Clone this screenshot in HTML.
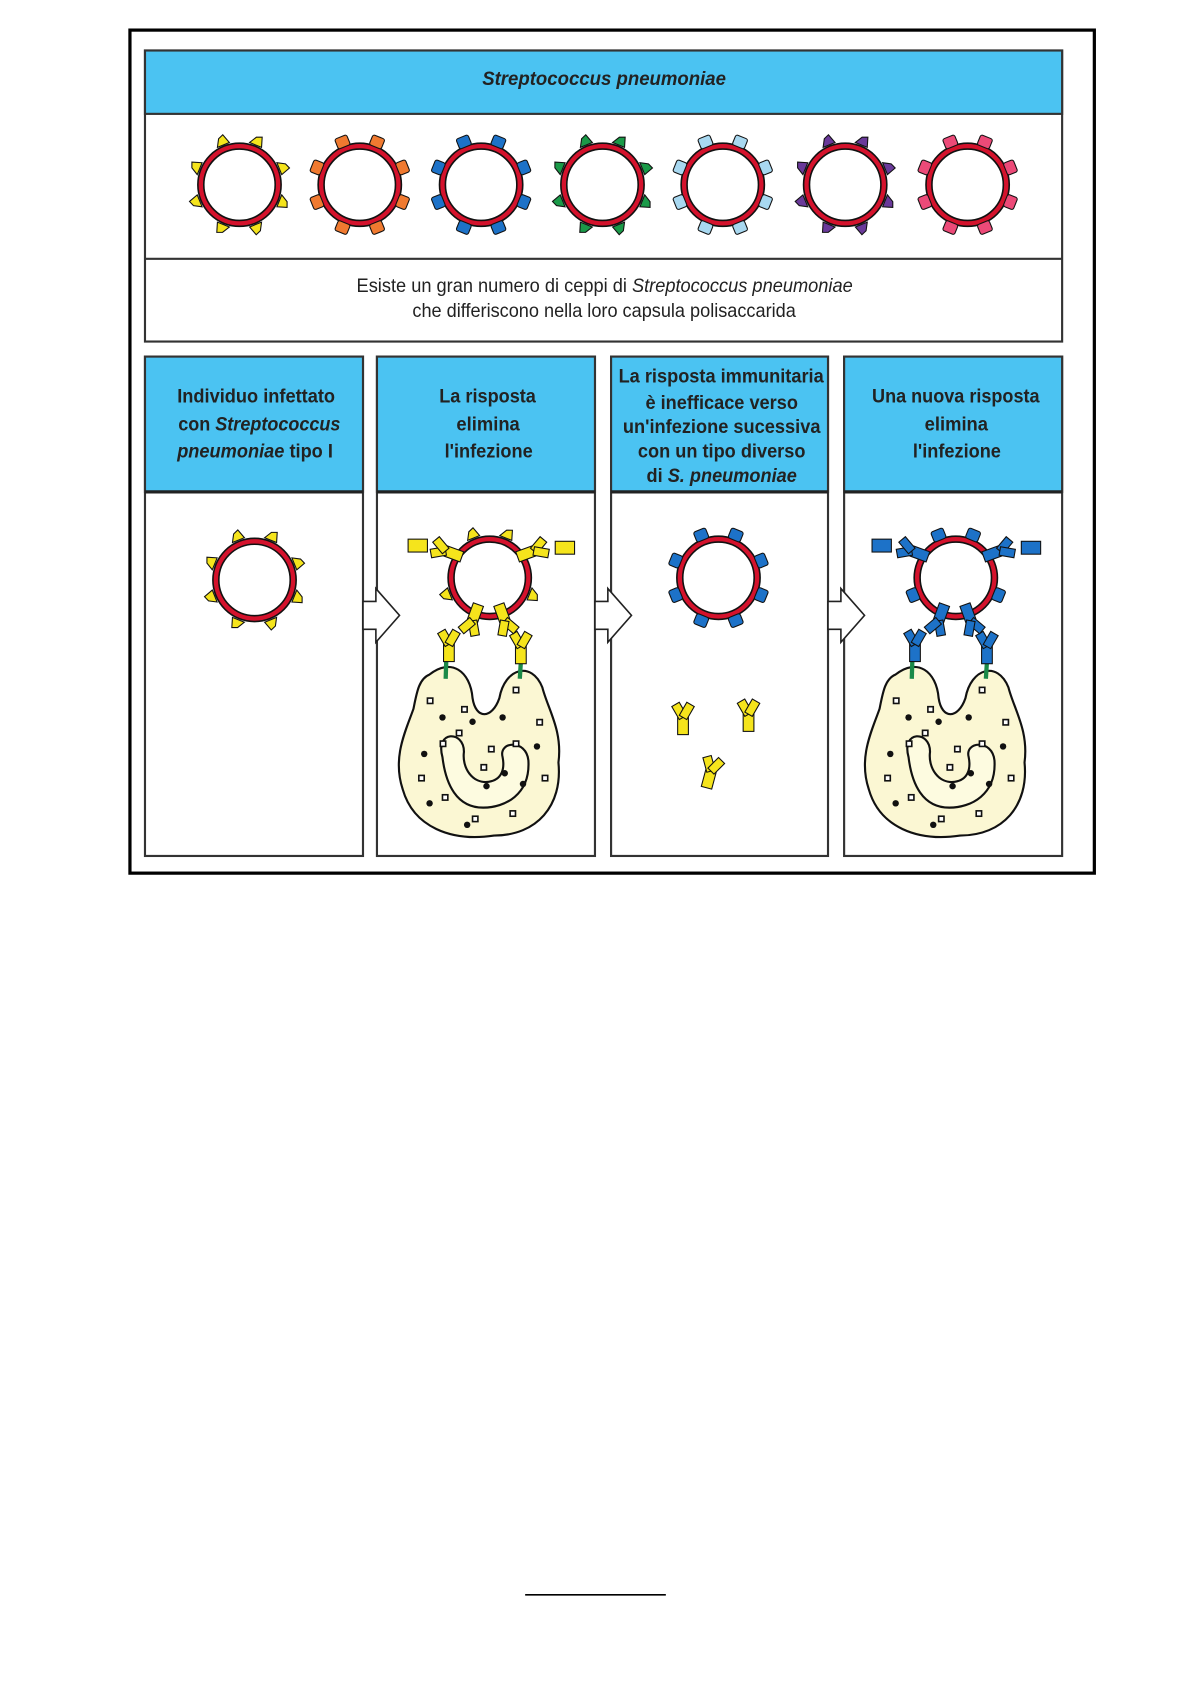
<!DOCTYPE html>
<html><head><meta charset="utf-8"><style>
html,body{margin:0;padding:0;background:#fff}
svg{display:block}
text{font-family:"Liberation Sans",sans-serif;font-weight:bold;fill:#222}
</style></head><body>
<svg width="1191" height="1684" viewBox="0 0 1109 1568" xmlns="http://www.w3.org/2000/svg">
<defs>
<g id="ring"><circle r="36" fill="#fff" stroke="#111" stroke-width="7"/><circle r="36" fill="none" stroke="#d4122c" stroke-width="4"/></g>
<polygon id="tri" points="-6,0 6,0 3,-9 -2,-7" stroke="#111" stroke-width="1"/>
<rect id="sq" x="-6" y="-8" width="12" height="10" rx="2" stroke="#111" stroke-width="1"/>
<g id="abody" stroke="#111" stroke-width="1">
<rect x="-5" y="0" width="10" height="16"/>
<rect x="-4" y="-14" width="8" height="14" transform="rotate(-30)"/>
<rect x="-4" y="-14" width="8" height="14" transform="rotate(30)"/>
</g>
</defs>

<rect x="121" y="28" width="898" height="785" fill="#fff" stroke="#000" stroke-width="3"/>
<rect x="135" y="47" width="854" height="271" fill="#fff" stroke="#333" stroke-width="2"/>
<rect x="135" y="47" width="854" height="59" fill="#4bc3f2" stroke="#333" stroke-width="2"/>
<line x1="135" y1="241" x2="989" y2="241" stroke="#333" stroke-width="2"/>
<text x="449" y="79" font-size="18" font-style="italic" textLength="227" lengthAdjust="spacingAndGlyphs">Streptococcus  pneumoniae</text>
<text x="332" y="272" font-size="18" style="font-weight:normal" textLength="462" lengthAdjust="spacingAndGlyphs">Esiste un gran numero di ceppi di <tspan font-style="italic">Streptococcus pneumoniae</tspan></text>
<text x="384" y="295" font-size="18" style="font-weight:normal" textLength="357" lengthAdjust="spacingAndGlyphs">che differiscono nella loro capsula polisaccarida</text>

<g transform="translate(223,172)"><use href="#ring"/><g fill="#f5e41c"><use href="#tri" transform="rotate(-22) translate(0,-40)"/><use href="#tri" transform="rotate(22) translate(0,-40)"/><use href="#tri" transform="rotate(68) translate(0,-40)"/><use href="#tri" transform="rotate(112) translate(0,-40)"/><use href="#tri" transform="rotate(158) translate(0,-40)"/><use href="#tri" transform="rotate(202) translate(0,-40)"/><use href="#tri" transform="rotate(248) translate(0,-40)"/><use href="#tri" transform="rotate(292) translate(0,-40)"/></g></g>
<g transform="translate(335,172)"><use href="#ring"/><g fill="#f07a30"><use href="#sq" transform="rotate(-22) translate(0,-40)"/><use href="#sq" transform="rotate(22) translate(0,-40)"/><use href="#sq" transform="rotate(68) translate(0,-40)"/><use href="#sq" transform="rotate(112) translate(0,-40)"/><use href="#sq" transform="rotate(158) translate(0,-40)"/><use href="#sq" transform="rotate(202) translate(0,-40)"/><use href="#sq" transform="rotate(248) translate(0,-40)"/><use href="#sq" transform="rotate(292) translate(0,-40)"/></g></g>
<g transform="translate(448,172)"><use href="#ring"/><g fill="#1d72c8"><use href="#sq" transform="rotate(-22) translate(0,-40)"/><use href="#sq" transform="rotate(22) translate(0,-40)"/><use href="#sq" transform="rotate(68) translate(0,-40)"/><use href="#sq" transform="rotate(112) translate(0,-40)"/><use href="#sq" transform="rotate(158) translate(0,-40)"/><use href="#sq" transform="rotate(202) translate(0,-40)"/><use href="#sq" transform="rotate(248) translate(0,-40)"/><use href="#sq" transform="rotate(292) translate(0,-40)"/></g></g>
<g transform="translate(561,172)"><use href="#ring"/><g fill="#1a9a48"><use href="#tri" transform="rotate(-22) translate(0,-40)"/><use href="#tri" transform="rotate(22) translate(0,-40)"/><use href="#tri" transform="rotate(68) translate(0,-40)"/><use href="#tri" transform="rotate(112) translate(0,-40)"/><use href="#tri" transform="rotate(158) translate(0,-40)"/><use href="#tri" transform="rotate(202) translate(0,-40)"/><use href="#tri" transform="rotate(248) translate(0,-40)"/><use href="#tri" transform="rotate(292) translate(0,-40)"/></g></g>
<g transform="translate(673,172)"><use href="#ring"/><g fill="#a8d8f0"><use href="#sq" transform="rotate(-22) translate(0,-40)"/><use href="#sq" transform="rotate(22) translate(0,-40)"/><use href="#sq" transform="rotate(68) translate(0,-40)"/><use href="#sq" transform="rotate(112) translate(0,-40)"/><use href="#sq" transform="rotate(158) translate(0,-40)"/><use href="#sq" transform="rotate(202) translate(0,-40)"/><use href="#sq" transform="rotate(248) translate(0,-40)"/><use href="#sq" transform="rotate(292) translate(0,-40)"/></g></g>
<g transform="translate(787,172)"><use href="#ring"/><g fill="#6a3a9a"><use href="#tri" transform="rotate(-22) translate(0,-40)"/><use href="#tri" transform="rotate(22) translate(0,-40)"/><use href="#tri" transform="rotate(68) translate(0,-40)"/><use href="#tri" transform="rotate(112) translate(0,-40)"/><use href="#tri" transform="rotate(158) translate(0,-40)"/><use href="#tri" transform="rotate(202) translate(0,-40)"/><use href="#tri" transform="rotate(248) translate(0,-40)"/><use href="#tri" transform="rotate(292) translate(0,-40)"/></g></g>
<g transform="translate(901,172)"><use href="#ring"/><g fill="#ec4a78"><use href="#sq" transform="rotate(-22) translate(0,-40)"/><use href="#sq" transform="rotate(22) translate(0,-40)"/><use href="#sq" transform="rotate(68) translate(0,-40)"/><use href="#sq" transform="rotate(112) translate(0,-40)"/><use href="#sq" transform="rotate(158) translate(0,-40)"/><use href="#sq" transform="rotate(202) translate(0,-40)"/><use href="#sq" transform="rotate(248) translate(0,-40)"/><use href="#sq" transform="rotate(292) translate(0,-40)"/></g></g>

<g stroke="#333" stroke-width="2">
<rect x="135" y="332" width="203" height="465" fill="#fff"/>
<rect x="351" y="332" width="203" height="465" fill="#fff"/>
<rect x="569" y="332" width="202" height="465" fill="#fff"/>
<rect x="786" y="332" width="203" height="465" fill="#fff"/>
<rect x="135" y="332" width="203" height="126" fill="#4bc3f2"/>
<rect x="351" y="332" width="203" height="126" fill="#4bc3f2"/>
<rect x="569" y="332" width="202" height="126" fill="#4bc3f2"/>
<rect x="786" y="332" width="203" height="126" fill="#4bc3f2"/>
</g>
<g stroke="#222" stroke-width="3"><line x1="135" y1="458" x2="338" y2="458"/><line x1="351" y1="458" x2="554" y2="458"/><line x1="569" y1="458" x2="771" y2="458"/><line x1="786" y1="458" x2="989" y2="458"/></g>

<g font-size="18" lengthAdjust="spacingAndGlyphs">
<text x="165" y="375" textLength="147" lengthAdjust="spacingAndGlyphs">Individuo infettato</text>
<text x="166" y="401" textLength="151" lengthAdjust="spacingAndGlyphs">con <tspan font-style="italic">Streptococcus</tspan></text>
<text x="165" y="426" textLength="145" lengthAdjust="spacingAndGlyphs"><tspan font-style="italic">pneumoniae</tspan> tipo I</text>
<text x="409" y="375" textLength="90" lengthAdjust="spacingAndGlyphs">La risposta</text>
<text x="425" y="401" textLength="59" lengthAdjust="spacingAndGlyphs">elimina</text>
<text x="414" y="426" textLength="82" lengthAdjust="spacingAndGlyphs">l'infezione</text>
<text x="576" y="356" textLength="191" lengthAdjust="spacingAndGlyphs">La risposta immunitaria</text>
<text x="601" y="381" textLength="142" lengthAdjust="spacingAndGlyphs">è inefficace verso</text>
<text x="580" y="403" textLength="184" lengthAdjust="spacingAndGlyphs">un'infezione sucessiva</text>
<text x="594" y="426" textLength="156" lengthAdjust="spacingAndGlyphs">con un tipo diverso</text>
<text x="602" y="449" textLength="140" lengthAdjust="spacingAndGlyphs">di <tspan font-style="italic">S. pneumoniae</tspan></text>
<text x="812" y="375" textLength="156" lengthAdjust="spacingAndGlyphs">Una nuova risposta</text>
<text x="861" y="401" textLength="59" lengthAdjust="spacingAndGlyphs">elimina</text>
<text x="850" y="426" textLength="82" lengthAdjust="spacingAndGlyphs">l'infezione</text>
</g>

<g fill="#fff" stroke="#222" stroke-width="1.5">
<polygon points="338,560 350,560 350,548 372,573 350,598 350,586 338,586"/>
<polygon points="554,560 566,560 566,548 588,573 566,598 566,586 554,586"/>
<polygon points="771,560 783,560 783,548 805,573 783,598 783,586 771,586"/>
</g>

<g transform="translate(237,540)"><use href="#ring"/><g fill="#f5e41c"><use href="#tri" transform="rotate(-22) translate(0,-40)"/><use href="#tri" transform="rotate(22) translate(0,-40)"/><use href="#tri" transform="rotate(68) translate(0,-40)"/><use href="#tri" transform="rotate(112) translate(0,-40)"/><use href="#tri" transform="rotate(158) translate(0,-40)"/><use href="#tri" transform="rotate(202) translate(0,-40)"/><use href="#tri" transform="rotate(248) translate(0,-40)"/><use href="#tri" transform="rotate(292) translate(0,-40)"/></g></g>

<defs>
<g id="mac">
<path d="M400,628 C420,612 438,625 440,650 C443,670 458,670 465,650 C470,622 495,615 505,640 C510,660 524,680 520,710 C524,750 500,778 460,778 C420,784 385,770 375,735 C365,705 378,680 385,660 C388,645 390,632 400,628 Z" fill="#fbf7d3" stroke="#111" stroke-width="2"/>
<path d="M412,705 C405,680 432,680 432,700 C430,715 440,730 455,728 C468,726 470,715 468,705 C464,690 490,688 492,708 C494,740 470,752 450,752 C425,752 415,730 412,705 Z" fill="#fdfbe0" stroke="#111" stroke-width="2"/>
<g fill="#fff" stroke="#111" stroke-width="1.5">
<rect x="398" y="650" width="5" height="5"/><rect x="430" y="658" width="5" height="5"/><rect x="478" y="640" width="5" height="5"/><rect x="410" y="690" width="5" height="5"/><rect x="455" y="695" width="5" height="5"/><rect x="500" y="670" width="5" height="5"/><rect x="412" y="740" width="5" height="5"/><rect x="390" y="722" width="5" height="5"/><rect x="440" y="760" width="5" height="5"/><rect x="475" y="755" width="5" height="5"/><rect x="505" y="722" width="5" height="5"/><rect x="448" y="712" width="5" height="5"/><rect x="425" y="680" width="5" height="5"/><rect x="478" y="690" width="5" height="5"/></g>
<g fill="#111"><circle cx="412" cy="668" r="3"/><circle cx="395" cy="702" r="3"/><circle cx="453" cy="732" r="3"/><circle cx="470" cy="720" r="3"/><circle cx="400" cy="748" r="3"/><circle cx="435" cy="768" r="3"/><circle cx="487" cy="730" r="3"/><circle cx="468" cy="668" r="3"/><circle cx="500" cy="695" r="3"/><circle cx="440" cy="672" r="3"/></g>
</g>
</defs>

<use href="#mac"/>
<g stroke="#1a8a48" stroke-width="4"><line x1="416" y1="600" x2="415" y2="632"/><line x1="486" y1="600" x2="484" y2="632"/></g>
<g transform="translate(456,538)"><use href="#ring"/><g fill="#f5e41c"><use href="#tri" transform="rotate(-22) translate(0,-40)"/><use href="#tri" transform="rotate(22) translate(0,-40)"/><use href="#tri" transform="rotate(112) translate(0,-40)"/><use href="#tri" transform="rotate(248) translate(0,-40)"/></g></g>
<g fill="#f5e41c">
<use href="#abody" transform="translate(418,600)"/>
<use href="#abody" transform="translate(485,602)"/>
<use href="#abody" transform="translate(440,578) rotate(200)"/>
<use href="#abody" transform="translate(470,578) rotate(160)"/>
<use href="#abody" transform="translate(415,513) rotate(-70)"/>
<use href="#abody" transform="translate(497,513) rotate(70)"/>
<rect x="380" y="502" width="18" height="12" stroke="#111"/>
<rect x="517" y="504" width="18" height="12" stroke="#111"/>
</g>

<g transform="translate(669,538)"><use href="#ring"/><g fill="#1d72c8"><use href="#sq" transform="rotate(-22) translate(0,-40)"/><use href="#sq" transform="rotate(22) translate(0,-40)"/><use href="#sq" transform="rotate(68) translate(0,-40)"/><use href="#sq" transform="rotate(112) translate(0,-40)"/><use href="#sq" transform="rotate(158) translate(0,-40)"/><use href="#sq" transform="rotate(202) translate(0,-40)"/><use href="#sq" transform="rotate(248) translate(0,-40)"/><use href="#sq" transform="rotate(292) translate(0,-40)"/></g></g>
<g fill="#f5e41c">
<use href="#abody" transform="translate(636,668)"/>
<use href="#abody" transform="translate(697,665)"/>
<use href="#abody" transform="translate(662,718) rotate(15)"/>
</g>

<use href="#mac" transform="translate(434,0)"/>
<g stroke="#1a8a48" stroke-width="4"><line x1="850" y1="600" x2="849" y2="632"/><line x1="920" y1="600" x2="918" y2="632"/></g>
<g transform="translate(890,538)"><use href="#ring"/><g fill="#1d72c8"><use href="#sq" transform="rotate(-22) translate(0,-40)"/><use href="#sq" transform="rotate(22) translate(0,-40)"/><use href="#sq" transform="rotate(112) translate(0,-40)"/><use href="#sq" transform="rotate(248) translate(0,-40)"/></g></g>
<g fill="#1d72c8">
<use href="#abody" transform="translate(852,600)"/>
<use href="#abody" transform="translate(919,602)"/>
<use href="#abody" transform="translate(874,578) rotate(200)"/>
<use href="#abody" transform="translate(904,578) rotate(160)"/>
<use href="#abody" transform="translate(849,513) rotate(-70)"/>
<use href="#abody" transform="translate(931,513) rotate(70)"/>
<rect x="812" y="502" width="18" height="12" stroke="#111"/>
<rect x="951" y="504" width="18" height="12" stroke="#111"/>
</g>

<line x1="489" y1="1485" x2="620" y2="1485" stroke="#000" stroke-width="1.5"/>
</svg>
</body></html>
